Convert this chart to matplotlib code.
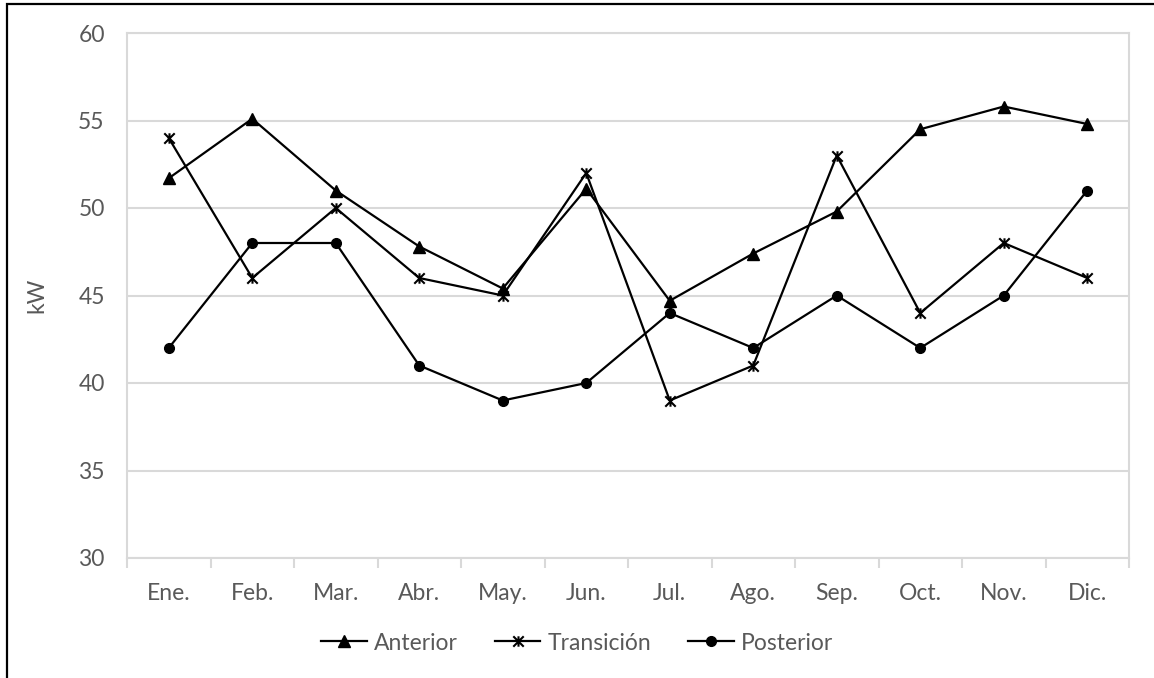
import matplotlib
matplotlib.use("Agg")
import matplotlib.pyplot as plt
from matplotlib.path import Path
from matplotlib.patches import Rectangle

months = ["Ene.", "Feb.", "Mar.", "Abr.", "May.", "Jun.", "Jul.", "Ago.", "Sep.", "Oct.", "Nov.", "Dic."]
anterior = [51.7, 55.1, 51.0, 47.8, 45.4, 51.1, 44.7, 47.4, 49.8, 54.5, 55.8, 54.8]
transicion = [54, 46, 50, 46, 45, 52, 39, 41, 53, 44, 48, 46]
posterior = [42, 48, 48, 41, 39, 40, 44, 42, 45, 42, 45, 51]
y_ticks = [30, 35, 40, 45, 50, 55, 60]

plt.rcParams["font.family"] = ["Lato", "DejaVu Sans"]
TXT = "#595959"
GRID = "#d9d9d9"
FS = 16.5

# asterisk marker: an X with a vertical stroke through it
star = Path(
    [(-1, -1), (1, 1), (-1, 1), (1, -1), (0, -1), (0, 1)],
    [Path.MOVETO, Path.LINETO, Path.MOVETO, Path.LINETO, Path.MOVETO, Path.LINETO],
)

fig = plt.figure(figsize=(11.54, 6.78), dpi=100)
ax = fig.add_axes([127 / 1154, 1 - 558 / 678, (1129 - 127) / 1154, (558 - 33) / 678])

x = list(range(len(months)))
ax.plot(x, anterior, color="black", lw=1.6, marker="^", ms=8, label="Anterior", zorder=3)
ax.plot(x, transicion, color="black", lw=1.6, marker=star, ms=7.5, mew=1.5, label="Transición", zorder=3)
ax.plot(x, posterior, color="black", lw=1.6, marker="o", ms=7, label="Posterior", zorder=3)

ax.set_xlim(-0.5, len(months) - 0.5)
ax.set_ylim(30, 60)
ax.set_yticks(y_ticks)
ax.yaxis.grid(True, color=GRID, lw=1.5)
ax.set_axisbelow(True)
ax.tick_params(axis="y", length=0, pad=16, labelsize=FS, labelcolor=TXT)

ax.set_xticks(x)
ax.set_xticklabels(months)
ax.set_xticks([i - 0.5 for i in range(len(months) + 1)], minor=True)
ax.tick_params(axis="x", which="major", length=0, pad=18, labelsize=FS, labelcolor=TXT)
ax.tick_params(axis="x", which="minor", length=7, width=1.5, color=GRID)

for s in ax.spines.values():
    s.set_color(GRID)
    s.set_linewidth(1.5)

ax.set_ylabel("kW", fontsize=FS, color=TXT, labelpad=22)

fig.legend(loc="center", bbox_to_anchor=(0.5, 1 - 643 / 678), ncol=3, frameon=False,
           fontsize=FS, labelcolor=TXT, handlelength=2.0, handletextpad=0.3, columnspacing=1.6)

fig.patches.append(Rectangle((6.5 / 1154, -0.1), 1.2, 1.1 - 4.5 / 678,
                             transform=fig.transFigure, fill=False, ec="black", lw=1.6))

fig.savefig("out.png", dpi=100)
